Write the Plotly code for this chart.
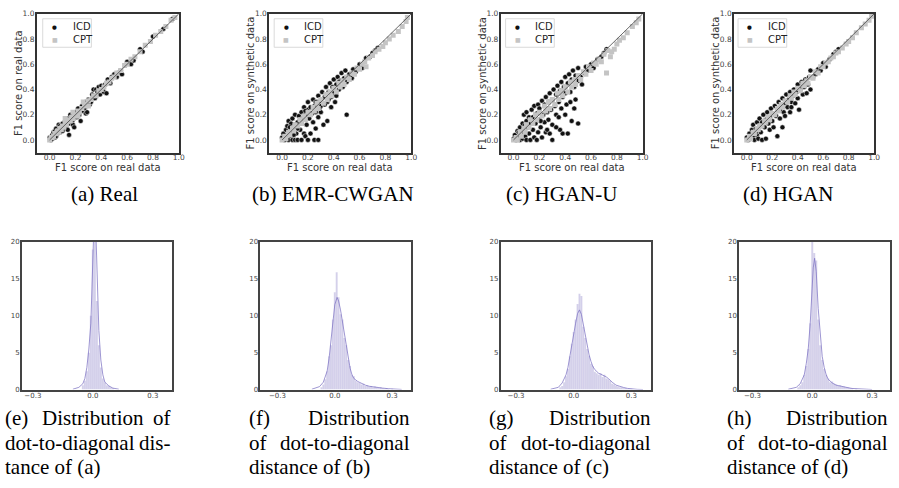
import plotly.graph_objects as go

W, H = 899, 488

# ---------------- data: scatter panels (x = F1 on real, y = F1 on real/synthetic) ----------------
A_ICD = [(0.00,0.02),(0.01,0.00),(0.02,0.04),(0.02,0.01),(0.03,0.06),(0.04,0.02),(0.04,0.07),(0.05,0.03),(0.05,0.09),(0.06,0.05),
         (0.07,0.12),(0.07,0.08),(0.08,0.06),(0.08,0.11),(0.09,0.10),(0.10,0.13),(0.10,0.07),(0.11,0.09),(0.12,0.15),(0.12,0.11),
         (0.13,0.10),(0.14,0.17),(0.14,0.08),(0.15,0.04),(0.15,0.13),(0.16,0.20),(0.17,0.14),(0.18,0.16),(0.18,0.12),(0.19,0.10),
         (0.20,0.22),(0.21,0.18),(0.22,0.25),(0.23,0.20),(0.24,0.15),(0.24,0.23),(0.25,0.27),(0.26,0.23),(0.27,0.25),(0.28,0.30),
         (0.28,0.21),(0.29,0.22),(0.30,0.32),(0.31,0.28),(0.32,0.30),(0.33,0.36),(0.34,0.40),(0.35,0.33),(0.36,0.40),(0.37,0.38),
         (0.38,0.42),(0.39,0.36),(0.40,0.43),(0.41,0.40),(0.42,0.38),(0.43,0.44),(0.44,0.37),(0.45,0.48),(0.47,0.45),(0.48,0.50),
         (0.50,0.52),(0.52,0.50),(0.53,0.53),(0.55,0.55),(0.56,0.52),(0.60,0.62),(0.63,0.60),(0.65,0.63),(0.70,0.72),(0.72,0.70),
         (0.80,0.82),(0.88,0.88),(0.95,0.96)]
A_CPT = [(0.00,0.00),(0.01,0.02),(0.02,0.02),(0.03,0.03),(0.04,0.05),(0.05,0.05),(0.06,0.07),(0.07,0.06),(0.08,0.09),(0.09,0.08),
         (0.10,0.11),(0.11,0.10),(0.12,0.13),(0.13,0.12),(0.14,0.15),(0.15,0.16),(0.16,0.15),(0.17,0.18),(0.18,0.17),(0.19,0.20),
         (0.20,0.19),(0.22,0.23),(0.23,0.22),(0.25,0.25),(0.27,0.28),(0.28,0.27),(0.30,0.31),(0.32,0.32),(0.34,0.35),(0.36,0.35),
         (0.38,0.39),(0.40,0.40),(0.42,0.42),(0.44,0.45),(0.46,0.46),(0.48,0.49),(0.50,0.50),(0.52,0.53),(0.55,0.55),(0.58,0.59),
         (0.60,0.60),(0.63,0.64),(0.66,0.66),(0.70,0.70),(0.74,0.75),(0.78,0.78),(0.82,0.83),(0.86,0.86),(0.90,0.90),(0.94,0.95),
         (0.97,0.97),(0.12,0.17),(0.18,0.22),(0.22,0.19),(0.26,0.30),(0.30,0.27)]

B_ICD = [(0.00,0.02),(0.01,0.05),(0.02,0.00),(0.03,0.08),(0.03,0.02),(0.04,0.11),(0.05,0.00),(0.05,0.15),(0.06,0.06),(0.07,0.03),
         (0.07,0.13),(0.08,0.00),(0.08,0.17),(0.09,0.09),(0.10,0.00),(0.10,0.12),(0.10,0.20),(0.11,0.05),(0.12,0.00),(0.12,0.14),
         (0.13,0.19),(0.14,0.08),(0.15,0.00),(0.15,0.22),(0.15,0.13),(0.16,0.17),(0.17,0.26),(0.17,0.05),(0.18,0.03),(0.18,0.20),
         (0.19,0.12),(0.20,0.00),(0.20,0.24),(0.20,0.30),(0.21,0.17),(0.22,0.05),(0.22,0.26),(0.23,0.21),(0.24,0.32),(0.24,0.14),
         (0.25,0.00),(0.25,0.27),(0.26,0.09),(0.26,0.22),(0.27,0.30),(0.28,0.00),(0.28,0.35),(0.28,0.18),(0.29,0.25),(0.30,0.31),
         (0.30,0.22),(0.31,0.38),(0.32,0.28),(0.32,0.12),(0.33,0.34),(0.34,0.42),(0.35,0.30),(0.35,0.15),(0.36,0.38),(0.37,0.45),
         (0.38,0.34),(0.38,0.26),(0.39,0.42),(0.40,0.48),(0.40,0.37),(0.41,0.30),(0.42,0.44),(0.43,0.50),(0.44,0.40),(0.45,0.47),
         (0.46,0.53),(0.47,0.42),(0.48,0.49),(0.49,0.55),(0.50,0.20),(0.50,0.46),(0.52,0.52),(0.54,0.49),(0.55,0.56),(0.57,0.54),
         (0.60,0.60),(0.62,0.57),(0.65,0.65),(0.68,0.66),(0.70,0.69),(0.72,0.71),(0.74,0.73),(0.42,0.35),(0.36,0.32),(0.30,0.27),
         (0.26,0.30),(0.18,0.23),(0.12,0.09),(0.09,0.04),(0.06,0.10),(0.14,0.16),(0.44,0.46),(0.33,0.28)]
B_CPT = [(0.00,0.00),(0.02,0.03),(0.03,0.01),(0.05,0.06),(0.06,0.04),(0.08,0.09),(0.09,0.07),(0.10,0.12),(0.12,0.11),(0.14,0.16),
         (0.15,0.13),(0.17,0.19),(0.18,0.16),(0.20,0.22),(0.22,0.20),(0.24,0.26),(0.25,0.23),(0.27,0.29),(0.28,0.25),(0.30,0.32),
         (0.32,0.29),(0.34,0.36),(0.35,0.32),(0.37,0.38),(0.38,0.35),(0.40,0.41),(0.42,0.38),(0.44,0.45),(0.45,0.42),(0.47,0.47),
         (0.48,0.44),(0.50,0.50),(0.52,0.48),(0.54,0.53),(0.56,0.52),(0.58,0.57),(0.60,0.56),(0.62,0.60),(0.64,0.62),(0.65,0.58),
         (0.67,0.65),(0.70,0.67),(0.72,0.70),(0.75,0.72),(0.78,0.74),(0.80,0.77),(0.83,0.80),(0.86,0.83),(0.90,0.86),(0.93,0.90),
         (0.96,0.94),(0.97,0.97)]

C_ICD = [(0.00,0.01),(0.01,0.04),(0.02,0.00),(0.03,0.07),(0.04,0.02),(0.05,0.10),(0.05,0.00),(0.06,0.05),(0.07,0.13),(0.07,0.01),
         (0.08,0.20),(0.08,0.08),(0.09,0.03),(0.10,0.15),(0.10,0.22),(0.10,0.00),(0.11,0.10),(0.12,0.05),(0.12,0.18),(0.13,0.00),
         (0.13,0.13),(0.14,0.24),(0.15,0.08),(0.15,0.18),(0.16,0.02),(0.16,0.27),(0.17,0.13),(0.18,0.21),(0.18,0.00),(0.19,0.06),
         (0.19,0.28),(0.20,0.16),(0.20,0.25),(0.21,0.10),(0.22,0.31),(0.22,0.02),(0.23,0.20),(0.24,0.14),(0.24,0.28),(0.25,0.06),
         (0.25,0.34),(0.26,0.22),(0.27,0.16),(0.27,0.30),(0.28,0.05),(0.28,0.37),(0.29,0.24),(0.30,0.12),(0.30,0.32),(0.30,0.00),
         (0.31,0.40),(0.32,0.27),(0.33,0.20),(0.33,0.36),(0.34,0.43),(0.35,0.30),(0.35,0.18),(0.36,0.39),(0.37,0.25),(0.37,0.46),
         (0.38,0.05),(0.38,0.34),(0.39,0.42),(0.40,0.20),(0.40,0.50),(0.40,0.37),(0.41,0.28),(0.42,0.05),(0.42,0.45),(0.43,0.52),
         (0.44,0.38),(0.45,0.15),(0.45,0.48),(0.46,0.55),(0.47,0.42),(0.48,0.32),(0.48,0.51),(0.50,0.13),(0.50,0.47),(0.50,0.57),
         (0.52,0.50),(0.53,0.44),(0.55,0.53),(0.56,0.58),(0.58,0.55),(0.60,0.60),(0.62,0.57),(0.65,0.64),(0.68,0.66),(0.70,0.69),
         (0.72,0.72),(0.36,0.08),(0.33,0.10),(0.26,0.08),(0.44,0.30),(0.47,0.25),(0.04,0.06),(0.09,0.12),(0.21,0.15)]
C_CPT = [(0.00,0.00),(0.02,0.02),(0.03,0.00),(0.05,0.06),(0.06,0.03),(0.08,0.09),(0.09,0.06),(0.10,0.12),(0.12,0.10),(0.13,0.16),
         (0.15,0.13),(0.17,0.20),(0.18,0.16),(0.20,0.22),(0.22,0.19),(0.24,0.27),(0.25,0.23),(0.27,0.30),(0.28,0.25),(0.30,0.32),
         (0.32,0.28),(0.34,0.37),(0.35,0.32),(0.37,0.39),(0.38,0.35),(0.40,0.42),(0.42,0.38),(0.44,0.46),(0.45,0.42),(0.47,0.48),
         (0.48,0.44),(0.50,0.51),(0.52,0.48),(0.54,0.54),(0.56,0.52),(0.58,0.58),(0.60,0.55),(0.62,0.61),(0.64,0.60),(0.66,0.64),
         (0.68,0.62),(0.70,0.68),(0.72,0.53),(0.73,0.71),(0.75,0.66),(0.76,0.70),(0.78,0.72),(0.80,0.76),(0.82,0.79),(0.85,0.81),
         (0.88,0.85),(0.92,0.90),(0.95,0.93),(0.97,0.96)]

D_ICD = [(0.00,0.02),(0.01,0.00),(0.02,0.05),(0.03,0.01),(0.04,0.08),(0.05,0.03),(0.05,0.12),(0.06,0.00),(0.07,0.09),(0.08,0.14),
         (0.08,0.04),(0.09,0.01),(0.10,0.11),(0.10,0.17),(0.11,0.06),(0.12,0.14),(0.12,0.00),(0.13,0.20),(0.14,0.10),(0.15,0.16),
         (0.15,0.01),(0.16,0.22),(0.17,0.13),(0.18,0.18),(0.18,0.08),(0.19,0.25),(0.20,0.15),(0.20,0.21),(0.21,0.10),(0.22,0.27),
         (0.23,0.19),(0.24,0.03),(0.24,0.24),(0.25,0.30),(0.26,0.17),(0.27,0.27),(0.28,0.10),(0.28,0.33),(0.29,0.22),(0.30,0.29),
         (0.30,0.19),(0.31,0.36),(0.32,0.26),(0.33,0.32),(0.34,0.38),(0.34,0.22),(0.35,0.30),(0.36,0.35),(0.37,0.40),(0.38,0.29),
         (0.39,0.38),(0.40,0.44),(0.40,0.33),(0.41,0.24),(0.42,0.40),(0.43,0.46),(0.44,0.36),(0.45,0.42),(0.46,0.48),(0.47,0.37),
         (0.48,0.44),(0.49,0.50),(0.50,0.40),(0.50,0.55),(0.52,0.50),(0.54,0.52),(0.56,0.56),(0.58,0.55),(0.60,0.61),(0.62,0.58),
         (0.65,0.64),(0.68,0.68),(0.70,0.70),(0.72,0.72),(0.35,0.26),(0.26,0.24),(0.14,0.15),(0.07,0.06),(0.32,0.30),(0.44,0.44)]
D_CPT = [(0.00,0.00),(0.02,0.03),(0.03,0.01),(0.05,0.06),(0.06,0.05),(0.08,0.09),(0.09,0.08),(0.10,0.11),(0.12,0.11),(0.14,0.15),
         (0.15,0.14),(0.17,0.18),(0.18,0.16),(0.20,0.21),(0.22,0.20),(0.24,0.25),(0.25,0.23),(0.27,0.28),(0.28,0.26),(0.30,0.31),
         (0.32,0.30),(0.34,0.35),(0.35,0.33),(0.37,0.38),(0.38,0.36),(0.40,0.41),(0.42,0.39),(0.44,0.45),(0.45,0.43),(0.47,0.47),
         (0.48,0.45),(0.50,0.50),(0.52,0.49),(0.54,0.54),(0.56,0.53),(0.58,0.58),(0.60,0.58),(0.62,0.61),(0.64,0.62),(0.66,0.65),
         (0.68,0.66),(0.70,0.69),(0.72,0.70),(0.75,0.73),(0.78,0.76),(0.80,0.78),(0.83,0.81),(0.86,0.85),(0.90,0.89),(0.93,0.92),
         (0.96,0.95),(0.98,0.98)]

DIAGONAL = [0.0, 1.0]
SCATTER_TICKS = [0.0, 0.2, 0.4, 0.6, 0.8, 1.0]

# ---------------- data: histograms of dot-to-diagonal distance ----------------
HIST_BIN_WIDTH = 0.01
E_BINS = [-0.05,-0.04,-0.03,-0.02,-0.01,0.00,0.01,0.02,0.03,0.04,0.05,0.06,0.07,0.08,0.09,0.10]
E_HIST = [0.6,1.2,2.5,5.0,10.0,19.0,28.0,12.0,6.0,3.0,1.5,1.0,0.6,0.5,0.3,0.2]
E_KDE_X = [-0.10,-0.07,-0.05,-0.04,-0.03,-0.02,-0.01,0.0,0.005,0.01,0.015,0.02,0.03,0.04,0.05,0.06,0.08,0.10,0.13]
E_KDE_Y = [0.05,0.3,0.8,1.5,3.0,5.5,9.0,16.0,22.0,26.0,22.0,15.0,8.0,4.0,2.0,1.0,0.5,0.2,0.05]

F_BINS = [-0.07,-0.06,-0.05,-0.04,-0.03,-0.02,-0.01,0.00,0.01,0.02,0.03,0.04,0.05,0.06,0.07,0.08,0.09,0.10,0.11,0.12,
          0.13,0.14,0.15,0.16,0.17,0.18,0.19,0.20,0.21,0.22,0.23,0.24,0.25,0.26,0.27,0.28,0.30]
F_HIST = [0.3,0.7,1.4,2.5,4.5,6.0,9.5,13.2,15.9,12.5,10.2,9.5,7.0,6.0,4.0,3.2,2.0,1.8,1.2,1.0,
          0.9,0.7,0.8,0.5,0.6,0.4,0.5,0.3,0.4,0.3,0.2,0.3,0.2,0.1,0.2,0.1,0.1]
F_KDE_X = [-0.12,-0.08,-0.06,-0.04,-0.03,-0.02,-0.01,0.0,0.012,0.02,0.03,0.04,0.05,0.06,0.07,0.08,0.09,0.10,0.12,0.14,
           0.16,0.18,0.20,0.22,0.25,0.28,0.31,0.35]
F_KDE_Y = [0.05,0.4,1.0,2.5,4.2,6.5,9.0,11.5,12.5,12.0,10.8,9.2,7.5,5.8,4.3,2.9,2.0,1.5,1.1,0.8,
           0.6,0.45,0.35,0.3,0.2,0.12,0.06,0.02]

G_BINS = [-0.07,-0.06,-0.05,-0.04,-0.03,-0.02,-0.01,0.00,0.01,0.02,0.03,0.04,0.05,0.06,0.07,0.08,0.09,0.10,0.11,0.12,
          0.13,0.14,0.15,0.16,0.17,0.18,0.19,0.20,0.21,0.22,0.23,0.24,0.25,0.26,0.27,0.28,0.29,0.30]
G_HIST = [0.3,0.5,1.0,1.8,2.8,4.5,6.2,7.8,9.5,11.6,13.0,12.7,8.5,7.0,5.5,4.6,3.5,3.2,2.4,2.2,
          2.0,2.2,1.7,2.0,1.5,1.4,1.2,0.8,0.7,0.5,0.4,0.3,0.3,0.2,0.2,0.1,0.1,0.1]
G_KDE_X = [-0.12,-0.08,-0.06,-0.04,-0.03,-0.02,-0.01,0.0,0.01,0.02,0.03,0.04,0.05,0.06,0.07,0.08,0.09,0.10,0.11,0.12,
           0.13,0.14,0.15,0.16,0.17,0.18,0.19,0.20,0.22,0.24,0.26,0.28,0.30,0.33,0.36]
G_KDE_Y = [0.05,0.3,0.9,2.0,3.0,4.6,6.0,7.5,9.0,10.3,10.8,10.2,8.8,7.2,5.8,4.7,3.8,3.1,2.7,2.4,
           2.2,2.1,2.0,1.9,1.7,1.5,1.2,1.0,0.6,0.4,0.28,0.16,0.08,0.03,0.01]

H_BINS = [-0.07,-0.06,-0.05,-0.04,-0.03,-0.02,-0.01,0.00,0.01,0.02,0.03,0.04,0.05,0.06,0.07,0.08,0.09,0.10,0.11,0.12,
          0.13,0.14,0.15,0.16,0.17,0.18,0.19,0.20,0.22]
H_HIST = [0.3,0.6,1.0,2.0,3.2,5.5,9.0,20.5,18.5,17.5,9.5,6.0,4.0,2.8,2.0,1.5,1.0,1.1,0.8,0.7,
          0.5,0.6,0.4,0.4,0.3,0.3,0.2,0.2,0.1]
H_KDE_X = [-0.12,-0.08,-0.06,-0.04,-0.03,-0.02,-0.01,0.0,0.005,0.012,0.02,0.03,0.04,0.05,0.06,0.07,0.08,0.10,0.12,0.14,
           0.16,0.18,0.20,0.23,0.26,0.30]
H_KDE_Y = [0.05,0.3,0.8,2.0,3.5,5.5,9.0,14.0,16.5,17.8,16.0,11.0,7.0,4.5,3.0,2.0,1.4,0.9,0.6,0.45,
           0.35,0.25,0.15,0.08,0.04,0.01]

HIST_XTICKS = [-0.3, 0.0, 0.3]
HIST_YTICKS = [0, 5, 10, 15, 20]

LEGEND_LABELS = ["ICD", "CPT"]
TOP_CAPTIONS = ["(a) Real", "(b) EMR-CWGAN", "(c) HGAN-U", "(d) HGAN"]
Y_TITLES = ["F1 score on real data", "F1 score on synthetic data", "F1 score on synthetic data", "F1 score on synthetic data"]
X_TITLE = "F1 score on real data"
BOTTOM_CAPTIONS = [
    [["(e)", "Distribution", "of"], ["dot-to-diagonal", "dis-"], ["tance of (a)"]],
    [["(f)", "Distribution"], ["of", "dot-to-diagonal"], ["distance of (b)"]],
    [["(g)", "Distribution"], ["of", "dot-to-diagonal"], ["distance of (c)"]],
    [["(h)", "Distribution"], ["of", "dot-to-diagonal"], ["distance of (d)"]],
]

# ---------------- layout geometry (pixels) ----------------
SC_BOX_X = [(37, 180), (271, 414), (504, 647), (739, 880)]
SC_BOX_Y = (10, 151)
SC_YTITLE_X = [18, 252, 485, 720]
LEG_LEFT = [43, 276, 509, 743]
HI_BOX_X = [(22, 173), (262, 414), (504, 655), (744, 896)]
HI_BOX_Y = (242, 392)
HI_XRANGE = [(-0.355, 0.395), (-0.39, 0.40), (-0.38, 0.40), (-0.367, 0.39)]
TOP_CAP_X = [105, 335, 565, 793]
BOT_COLS = [(3, 174), (249, 415), (490, 657), (730, 896)]


def fx(px):
    return px / W


def fy(py):
    return 1 - py / H


fig = go.Figure()
layout = dict(
    width=W, height=H, margin=dict(l=0, r=0, t=0, b=0),
    paper_bgcolor="white", plot_bgcolor="white", showlegend=False,
)
annotations = []
shapes = []

AX_FONT = "DejaVu Sans"
SERIF = "Liberation Serif"

scatter_sets = [(A_ICD, A_CPT), (B_ICD, B_CPT), (C_ICD, C_CPT), (D_ICD, D_CPT)]
for i, (icd, cpt) in enumerate(scatter_sets):
    n = i + 1
    xa, ya = ("x" if n == 1 else f"x{n}"), ("y" if n == 1 else f"y{n}")
    fig.add_trace(go.Scatter(
        x=[p[0] for p in icd], y=[p[1] for p in icd], mode="markers", name=LEGEND_LABELS[0],
        marker=dict(color="#111111", size=5, line=dict(color="white", width=0.5)),
        xaxis=xa, yaxis=ya, hoverinfo="skip"))
    fig.add_trace(go.Scatter(
        x=[p[0] for p in cpt], y=[p[1] for p in cpt], mode="markers", name=LEGEND_LABELS[1],
        marker=dict(color="#c4c4c4", size=5, symbol="square", line=dict(width=0)),
        xaxis=xa, yaxis=ya, hoverinfo="skip"))
    fig.add_trace(go.Scatter(
        x=DIAGONAL, y=DIAGONAL, mode="lines", line=dict(color="#444444", width=0.8),
        xaxis=xa, yaxis=ya, hoverinfo="skip"))
    l, r = SC_BOX_X[i]
    axis_common = dict(showgrid=False, zeroline=False, showline=True, mirror=True,
                       linecolor="#333333", linewidth=1.6, ticks="",
                       tickfont=dict(family=AX_FONT, size=7.5, color="#444444"),
                       tickvals=SCATTER_TICKS, tickformat=".1f", range=[-0.1, 1.0], fixedrange=True)
    layout["xaxis" if n == 1 else f"xaxis{n}"] = dict(domain=[fx(l), fx(r)], anchor=ya,
                                                      ticklabelstandoff=-3, **axis_common)
    layout["yaxis" if n == 1 else f"yaxis{n}"] = dict(domain=[fy(SC_BOX_Y[1]), fy(SC_BOX_Y[0])], anchor=xa,
                                                      ticklabelstandoff=-1, **axis_common)
    # axis titles
    annotations.append(dict(text=X_TITLE, x=fx((l + r) / 2), y=fy(166), xref="paper", yref="paper",
                            showarrow=False, xanchor="center", yanchor="middle",
                            font=dict(family=AX_FONT, size=10, color="#333333")))
    annotations.append(dict(text=Y_TITLES[i], x=fx(SC_YTITLE_X[i]), y=fy((SC_BOX_Y[0] + SC_BOX_Y[1]) / 2),
                            xref="paper", yref="paper", showarrow=False, textangle=-90,
                            xanchor="center", yanchor="middle",
                            font=dict(family=AX_FONT, size=10, color="#333333")))
    # legend box
    lx = LEG_LEFT[i]
    shapes.append(dict(type="rect", xref="paper", yref="paper", x0=fx(lx), x1=fx(lx + 49),
                       y0=fy(44), y1=fy(15), line=dict(color="#d0d0d0", width=0.8),
                       fillcolor="rgba(255,255,255,0.85)", layer="above"))
    annotations.append(dict(text="●", x=fx(lx + 12), y=fy(23), xref="paper", yref="paper", showarrow=False,
                            xanchor="center", yanchor="middle", font=dict(family=AX_FONT, size=5.5, color="#111111")))
    annotations.append(dict(text="■", x=fx(lx + 12), y=fy(36), xref="paper", yref="paper", showarrow=False,
                            xanchor="center", yanchor="middle", font=dict(family=AX_FONT, size=6, color="#c4c4c4")))
    annotations.append(dict(text=LEGEND_LABELS[0], x=fx(lx + 28), y=fy(23), xref="paper", yref="paper",
                            showarrow=False, xanchor="left", yanchor="middle",
                            font=dict(family=AX_FONT, size=10, color="#222222")))
    annotations.append(dict(text=LEGEND_LABELS[1], x=fx(lx + 28), y=fy(36), xref="paper", yref="paper",
                            showarrow=False, xanchor="left", yanchor="middle",
                            font=dict(family=AX_FONT, size=10, color="#222222")))
    # caption
    annotations.append(dict(text=TOP_CAPTIONS[i], x=fx(TOP_CAP_X[i]), y=fy(193), xref="paper", yref="paper",
                            showarrow=False, xanchor="center", yanchor="middle",
                            font=dict(family=SERIF, size=21, color="black")))

hist_sets = [(E_BINS, E_HIST, E_KDE_X, E_KDE_Y), (F_BINS, F_HIST, F_KDE_X, F_KDE_Y),
             (G_BINS, G_HIST, G_KDE_X, G_KDE_Y), (H_BINS, H_HIST, H_KDE_X, H_KDE_Y)]
for i, (bx, bh, kx, ky) in enumerate(hist_sets):
    n = i + 5
    xa, ya = f"x{n}", f"y{n}"
    fig.add_trace(go.Bar(x=bx, y=bh, width=HIST_BIN_WIDTH,
                         marker=dict(color="rgba(150,140,205,0.42)", line=dict(color="rgba(255,255,255,0.35)", width=0.3)),
                         xaxis=xa, yaxis=ya, hoverinfo="skip"))
    fig.add_trace(go.Scatter(x=kx, y=ky, mode="lines", line=dict(color="rgba(125,115,195,0.75)", width=1),
                             xaxis=xa, yaxis=ya, hoverinfo="skip"))
    l, r = HI_BOX_X[i]
    common = dict(showgrid=False, zeroline=False, showline=True, mirror=True,
                  linecolor="#444444", linewidth=1.5, ticks="",
                  tickfont=dict(family=AX_FONT, size=7, color="#444444"), fixedrange=True)
    layout[f"xaxis{n}"] = dict(domain=[fx(l), fx(r)], anchor=ya, range=list(HI_XRANGE[i]),
                               tickvals=HIST_XTICKS, tickformat=".1f", ticklabelstandoff=-2, **common)
    layout[f"yaxis{n}"] = dict(domain=[fy(HI_BOX_Y[1]), fy(HI_BOX_Y[0])], anchor=xa, range=[0, 20],
                               tickvals=HIST_YTICKS, ticklabelstandoff=-1, **common)
    # justified caption lines
    cl, cr = BOT_COLS[i]
    for j, words in enumerate(BOTTOM_CAPTIONS[i]):
        yy = fy(421 + 25 * j)
        f = dict(family=SERIF, size=21, color="black")
        if len(words) == 1:
            annotations.append(dict(text=words[0], x=fx(cl), y=yy, xref="paper", yref="paper", showarrow=False,
                                    xanchor="left", yanchor="middle", font=f))
        elif len(words) == 2:
            annotations.append(dict(text=words[0], x=fx(cl), y=yy, xref="paper", yref="paper", showarrow=False,
                                    xanchor="left", yanchor="middle", font=f))
            annotations.append(dict(text=words[1], x=fx(cr), y=yy, xref="paper", yref="paper", showarrow=False,
                                    xanchor="right", yanchor="middle", font=f))
        else:
            annotations.append(dict(text=words[0], x=fx(cl), y=yy, xref="paper", yref="paper", showarrow=False,
                                    xanchor="left", yanchor="middle", font=f))
            annotations.append(dict(text=words[1], x=fx(cl + 0.53 * (cr - cl)), y=yy, xref="paper", yref="paper",
                                    showarrow=False, xanchor="center", yanchor="middle", font=f))
            annotations.append(dict(text=words[2], x=fx(cr), y=yy, xref="paper", yref="paper", showarrow=False,
                                    xanchor="right", yanchor="middle", font=f))

layout["annotations"] = annotations
layout["shapes"] = shapes
fig.update_layout(**layout)
# remove the browser's default 8px page margin so the figure fills the 899x488 window exactly
fig.write_html("out.html", config={"displayModeBar": False},
               post_script="document.body.style.margin='0';document.body.style.overflow='hidden';")
